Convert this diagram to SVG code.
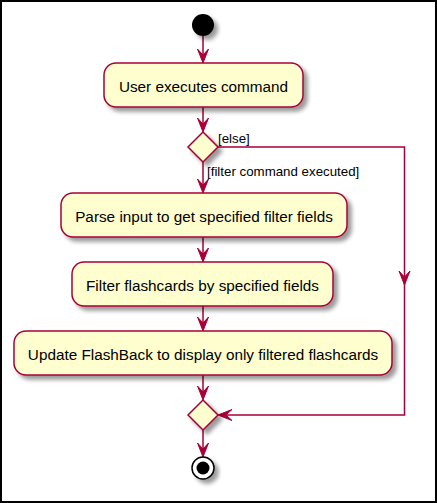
<svg xmlns="http://www.w3.org/2000/svg" width="437" height="503" viewBox="0 0 437 503">
<style>
.act{fill:#FEFECE;stroke:#A80036;stroke-width:1.5}
.t{font-family:"Liberation Sans",Arial,sans-serif;font-size:15.3px;fill:#000;text-anchor:middle}
.g{font-family:"Liberation Sans",Arial,sans-serif;font-size:13.3px;fill:#000}
.ln{fill:none;stroke:#A80036;stroke-width:1.5}
.ah{fill:#A80036;stroke:#A80036;stroke-width:1}
</style>
<defs>
<filter id="sh" x="-20%" y="-20%" width="150%" height="160%">
<feGaussianBlur in="SourceAlpha" stdDeviation="2"/>
<feOffset dx="4" dy="4" result="b"/>
<feComponentTransfer><feFuncA type="linear" slope="0.4"/></feComponentTransfer>
<feMerge><feMergeNode/><feMergeNode in="SourceGraphic"/></feMerge>
</filter>
</defs>
<rect x="1" y="1" width="435" height="501" fill="#fff" stroke="#000" stroke-width="2"/>
<g id="connectors">
<path class="ln" d="M203,36 V60"/>
<polygon class="ah" points="197.5,49 203,63 208.5,49 203,55"/>
<path class="ln" d="M203,107 V129"/>
<polygon class="ah" points="197.5,118 203,132 208.5,118 203,124"/>
<path class="ln" d="M203,162 V190"/>
<polygon class="ah" points="197.5,179 203,193 208.5,179 203,185"/>
<path class="ln" d="M203,237 V259"/>
<polygon class="ah" points="197.5,248 203,262 208.5,248 203,254"/>
<path class="ln" d="M203,306 V328"/>
<polygon class="ah" points="197.5,317 203,331 208.5,317 203,323"/>
<path class="ln" d="M203,375 V397"/>
<polygon class="ah" points="197.5,386 203,400 208.5,386 203,392"/>
<path class="ln" d="M203,430 V454"/>
<polygon class="ah" points="197.5,443 203,457 208.5,443 203,449"/>
<path class="ln" d="M218,147 H404.5 V415 H222"/>
<polygon class="ah" points="399,271 404.5,285 410,271 404.5,277"/>
<polygon class="ah" points="232,409.5 218,415 232,420.5 226,415"/>
<text class="g" x="218" y="143">[else]</text>
<text class="g" x="207" y="176">[filter command executed]</text>
</g>
<g id="start">
<circle cx="203" cy="25" r="11" fill="#000" filter="url(#sh)"/>
</g>
<g id="userExecutes">
<rect class="act" x="104" y="63" width="199" height="44" rx="12" filter="url(#sh)"/>
<text class="t" x="203.5" y="91.5">User executes command</text>
</g>
<g id="decision1">
<polygon class="act" points="203,132 218,147 203,162 188,147" filter="url(#sh)"/>
</g>
<g id="parseInput">
<rect class="act" x="61" y="193" width="286" height="44" rx="12" filter="url(#sh)"/>
<text class="t" x="204" y="221.5">Parse input to get specified filter fields</text>
</g>
<g id="filterFlashcards">
<rect class="act" x="72" y="262" width="261" height="44" rx="12" filter="url(#sh)"/>
<text class="t" x="202.5" y="290.5">Filter flashcards by specified fields</text>
</g>
<g id="updateFlashBack">
<rect class="act" x="14" y="331" width="378" height="44" rx="12" filter="url(#sh)"/>
<text class="t" x="203" y="359.5">Update FlashBack to display only filtered flashcards</text>
</g>
<g id="merge">
<polygon class="act" points="203,400 218,415 203,430 188,415" filter="url(#sh)"/>
</g>
<g id="end">
<circle cx="203" cy="468" r="11" fill="#fff" stroke="#000" stroke-width="1.5" filter="url(#sh)"/>
<circle cx="203" cy="468" r="6.5" fill="#000"/>
</g>
</svg>
